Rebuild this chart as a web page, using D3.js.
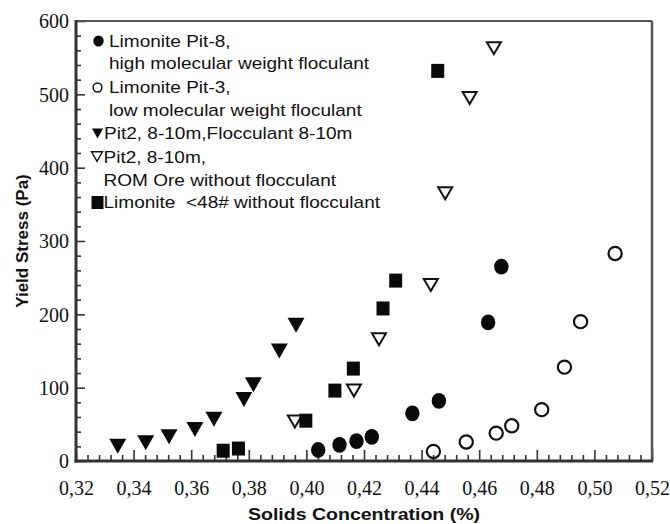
<!DOCTYPE html>
<html>
<head>
<meta charset="utf-8">
<script src="https://cdn.jsdelivr.net/npm/d3@7"></script>
<style>
  body { margin: 0; background: #fff; }
  svg { display: block; }
</style>
</head>
<body>
<div id="chart"></div>
<script>
// ticks
const xTickValues = [0.32, 0.34, 0.36, 0.38, 0.40, 0.42, 0.44, 0.46, 0.48, 0.50, 0.52]
const yTickValues = [0, 100, 200, 300, 400, 500, 600]

// Limonite Pit-8, high molecular weight floculant (filled circle)
const pit8X = [0.4041, 0.4115, 0.4174, 0.4227, 0.4368, 0.4460, 0.4631, 0.4677]
const pit8Y = [15, 22, 27, 33, 65, 82, 189, 265]
// Limonite Pit-3, low molecular weight floculant (open circle)
const pit3X = [0.4441, 0.4555, 0.4659, 0.4713, 0.4817, 0.4896, 0.4952, 0.5072]
const pit3Y = [13, 26, 38, 48, 70, 128, 190, 283]
// Pit2, 8-10m, Flocculant 8-10m (filled triangle)
const pit2FlocX = [0.3345, 0.3442, 0.3523, 0.3613, 0.3679, 0.3783, 0.3816, 0.3906, 0.3964]
const pit2FlocY = [20, 25, 33, 43, 57, 84, 104, 150, 185]
// Pit2, 8-10m, ROM Ore without flocculant (open triangle)
const pit2RomX = [0.3960, 0.4165, 0.4252, 0.4432, 0.4482, 0.4567, 0.4651]
const pit2RomY = [54, 96, 166, 240, 365, 495, 563]
// Limonite <48# without flocculant (filled square)
const lim48X = [0.3711, 0.3764, 0.3998, 0.4099, 0.4163, 0.4266, 0.4310, 0.4456]
const lim48Y = [14, 17, 55, 96, 126, 208, 246, 532]

const legendLines = [
  ['Limonite Pit-8,', 'high molecular weight floculant'],
  ['Limonite Pit-3,', 'low molecular weight floculant'],
  ['Pit2, 8-10m,Flocculant 8-10m'],
  ['Pit2, 8-10m,', 'ROM Ore without flocculant'],
  ['Limonite  <48# without flocculant']
]

const W = 670
const H = 524
const pLeft = 76, pRight = 652, pTop = 21, pBottom = 461

const sans = "'Liberation Sans', Arial, sans-serif"
const serif = "'Liberation Serif', 'Times New Roman', 'DejaVu Serif', serif"

const svg = d3.select('#chart').append('svg')
  .attr('width', W)
  .attr('height', H)

const x = d3.scaleLinear().domain([0.32, 0.52]).range([pLeft, pRight])
const y = d3.scaleLinear().domain([0, 600]).range([pBottom, pTop])

const fmt = d3.formatLocale({ decimal: ',', thousands: '.', grouping: [3], currency: ['', ''] }).format('.2f')

// minor ticks
const xMinor = d3.range(0.32, 0.5201, 0.004).filter(v => Math.abs(v * 50 - Math.round(v * 50)) > 1e-6)
const yMinor = d3.range(0, 601, 20).filter(v => v % 100 !== 0)

svg.append('g').attr('transform', 'translate(0,' + pBottom + ')')
  .call(d3.axisBottom(x).tickValues(xMinor).tickSize(-6).tickFormat(''))
svg.append('g').attr('transform', 'translate(' + pLeft + ',0)')
  .call(d3.axisLeft(y).tickValues(yMinor).tickSize(-5).tickFormat(''))

const gx = svg.append('g').attr('transform', 'translate(0,' + pBottom + ')')
  .call(d3.axisBottom(x).tickValues(xTickValues).tickSize(-11).tickPadding(20).tickFormat(fmt))
const gy = svg.append('g').attr('transform', 'translate(' + pLeft + ',0)')
  .call(d3.axisLeft(y).tickValues(yTickValues).tickSize(-9).tickPadding(7).tickFormat(d3.format('d')))

svg.selectAll('.domain').remove()
svg.selectAll('.tick line').attr('stroke', '#333').attr('stroke-width', 1.6)
gx.attr('font-family', null).attr('font-size', null)
gy.attr('font-family', null).attr('font-size', null)
svg.selectAll('g.tick text')
  .attr('font-family', serif).attr('font-size', 20).attr('fill', '#111')
gy.selectAll('.tick text').attr('dy', '0.34em')

// frame
svg.append('line').attr('x1', pLeft).attr('x2', pRight).attr('y1', pTop).attr('y2', pTop)
  .attr('stroke', '#555').attr('stroke-width', 2)
svg.append('line').attr('x1', pRight).attr('x2', pRight).attr('y1', pTop).attr('y2', pBottom)
  .attr('stroke', '#555').attr('stroke-width', 2.5)
svg.append('line').attr('x1', pLeft).attr('x2', pLeft).attr('y1', pTop - 1).attr('y2', pBottom + 1.5)
  .attr('stroke', '#333').attr('stroke-width', 3)
svg.append('line').attr('x1', pLeft - 1.5).attr('x2', pRight + 1).attr('y1', pBottom).attr('y2', pBottom)
  .attr('stroke', '#333').attr('stroke-width', 3)

// axis titles (the source figure is stretched a little horizontally)
svg.append('text')
  .attr('transform', 'translate(' + (pLeft + pRight) / 2 + ',520) scale(1.15,1)')
  .attr('text-anchor', 'middle')
  .style('font-family', sans).style('font-weight', 'bold').style('font-size', '17px')
  .attr('fill', '#111')
  .text('Solids Concentration (%)')
svg.append('text')
  .attr('transform', 'translate(28,' + (pTop + pBottom) / 2 + ') rotate(-90)')
  .attr('text-anchor', 'middle')
  .style('font-family', sans).style('font-weight', 'bold').style('font-size', '17px')
  .attr('fill', '#111')
  .text('Yield Stress (Pa)')

// marker shapes, centred on their bounding box
const triDown = (w, h) => 'M' + (-w / 2) + ',' + (-h / 2) + 'L' + (w / 2) + ',' + (-h / 2) + 'L0,' + (h / 2) + 'Z'

const zip = (xs, ys) => xs.map((v, i) => [v, ys[i]])

const plot = svg.append('g')

plot.selectAll('.pit2rom').data(zip(pit2RomX, pit2RomY)).enter().append('path')
  .attr('class', 'pit2rom')
  .attr('d', triDown(14, 12))
  .attr('transform', d => 'translate(' + x(d[0]) + ',' + y(d[1]) + ')')
  .attr('fill', '#fff').attr('stroke', '#111').attr('stroke-width', 2).attr('stroke-linejoin', 'miter')

plot.selectAll('.lim48').data(zip(lim48X, lim48Y)).enter().append('rect')
  .attr('class', 'lim48')
  .attr('x', d => x(d[0]) - 6.5).attr('y', d => y(d[1]) - 7)
  .attr('width', 13).attr('height', 14)
  .attr('fill', '#0a0a0a')

plot.selectAll('.pit2floc').data(zip(pit2FlocX, pit2FlocY)).enter().append('path')
  .attr('class', 'pit2floc')
  .attr('d', triDown(17, 15))
  .attr('transform', d => 'translate(' + x(d[0]) + ',' + y(d[1]) + ')')
  .attr('fill', '#0a0a0a')

plot.selectAll('.pit8').data(zip(pit8X, pit8Y)).enter().append('ellipse')
  .attr('class', 'pit8')
  .attr('cx', d => x(d[0])).attr('cy', d => y(d[1]))
  .attr('rx', 7.2).attr('ry', 7.9)
  .attr('fill', '#0a0a0a')

plot.selectAll('.pit3').data(zip(pit3X, pit3Y)).enter().append('circle')
  .attr('class', 'pit3')
  .attr('cx', d => x(d[0])).attr('cy', d => y(d[1]))
  .attr('r', 6.6)
  .attr('fill', 'none').attr('stroke', '#111').attr('stroke-width', 2.2)

// legend
const legend = svg.append('g')
legend.append('ellipse').attr('cx', 98.5).attr('cy', 41).attr('rx', 5.2).attr('ry', 5.6).attr('fill', '#0a0a0a')
legend.append('circle').attr('cx', 97.5).attr('cy', 87.5).attr('r', 4.4)
  .attr('fill', 'none').attr('stroke', '#111').attr('stroke-width', 1.5)
legend.append('path').attr('d', triDown(11, 10)).attr('transform', 'translate(97.5,133.5)').attr('fill', '#0a0a0a')
legend.append('path').attr('d', triDown(11, 9.5)).attr('transform', 'translate(97,156.5)')
  .attr('fill', 'none').attr('stroke', '#111').attr('stroke-width', 1.4)
legend.append('rect').attr('x', 91.5).attr('y', 196).attr('width', 12).attr('height', 13).attr('fill', '#0a0a0a')

const legendX = [109, 109, 104, 103.5, 103.5]
const legendBase = [[46.7, 69.3], [93.3, 116], [139.3], [162.7, 186], [208.3]]
legendLines.forEach((lines, i) => {
  lines.forEach((t, j) => {
    legend.append('text')
      .attr('transform', 'translate(' + legendX[i] + ',' + legendBase[i][j] + ') scale(1.12,1)')
      .style('font-family', sans).style('font-size', '17px')
      .attr('fill', '#111')
      .style('white-space', 'pre')
      .text(t)
  })
})
</script>
</body>
</html>
